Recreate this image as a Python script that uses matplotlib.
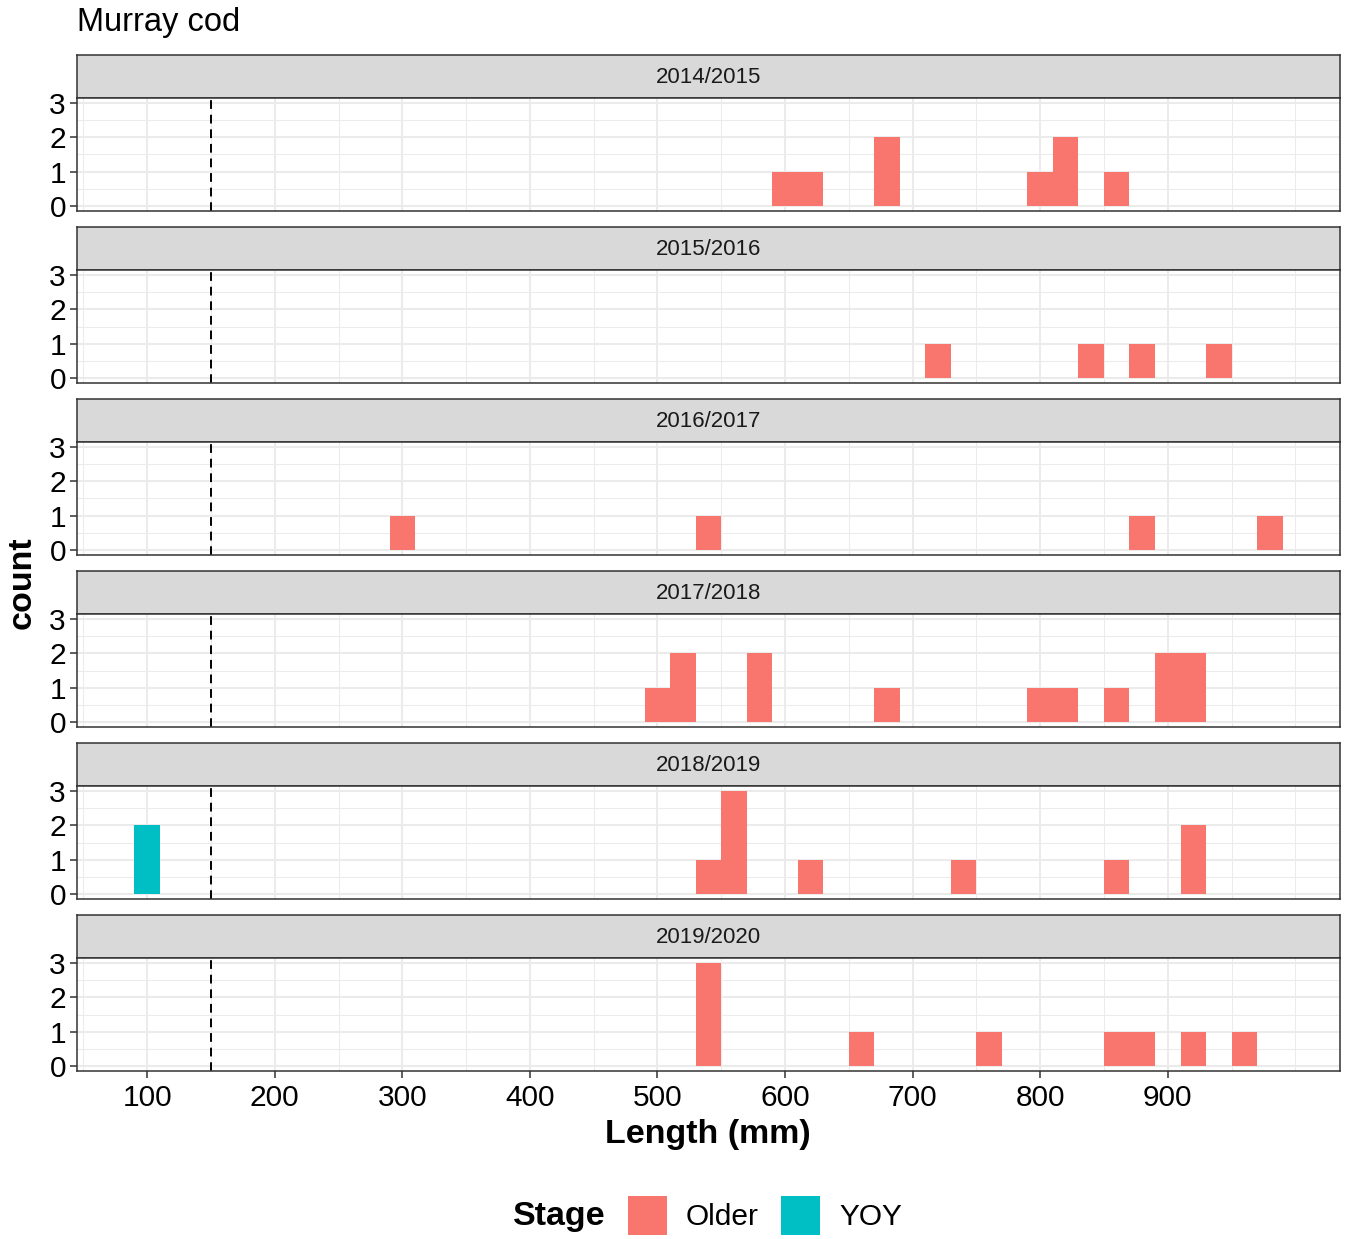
import matplotlib.pyplot as plt
from matplotlib.patches import Rectangle

plt.rcParams["font.family"] = ["Liberation Sans", "DejaVu Sans"]

SEASONS = ["2014/2015", "2015/2016", "2016/2017", "2017/2018", "2018/2019", "2019/2020"]

# bin centres (mm) and counts, binwidth 20
OLDER_LENGTHS = [
    [600, 620, 680, 800, 820, 860],
    [720, 840, 880, 940],
    [300, 540, 880, 980],
    [500, 520, 580, 680, 800, 820, 860, 900, 920],
    [540, 560, 620, 740, 860, 920],
    [540, 660, 760, 860, 880, 920, 960],
]
OLDER_COUNTS = [
    [1, 1, 2, 1, 2, 1],
    [1, 1, 1, 1],
    [1, 1, 1, 1],
    [1, 2, 2, 1, 1, 1, 1, 2, 2],
    [1, 3, 1, 1, 1, 2],
    [3, 1, 1, 1, 1, 1, 1],
]
YOY_LENGTHS = [[], [], [], [], [100], []]
YOY_COUNTS = [[], [], [], [], [2], []]

BIN_WIDTH = 20
YOY_CUTOFF = 150
X_TICKS = [100, 200, 300, 400, 500, 600, 700, 800, 900]
X_MINOR = [50, 150, 250, 350, 450, 550, 650, 750, 850, 950, 1000]
Y_TICKS = [0, 1, 2, 3]
Y_MINOR = [0.5, 1.5, 2.5]

OLDER_COLOR = "#F8766D"
YOY_COLOR = "#00BFC4"
BORDER = "#333333"
GRID = "#EBEBEB"

W, H = 1346, 1239


def fx(px):
    return px / W


def fy(py):
    return 1 - py / H


def main():
    fig = plt.figure(figsize=(W / 100, H / 100), dpi=100)
    left, right = 77, 1340
    for i, season in enumerate(SEASONS):
        top = 98 + 172 * i
        bottom = 211 + 172 * i
        strip_top = 55 + 172 * i

        sax = fig.add_axes([fx(left), fy(top), fx(right) - fx(left), fy(strip_top) - fy(top)])
        sax.set_facecolor("#D9D9D9")
        sax.set_xticks([])
        sax.set_yticks([])
        for sp in sax.spines.values():
            sp.set_color(BORDER)
            sp.set_linewidth(1.1)
        sax.text(0.5, 0.47, season, ha="center", va="center", fontsize=16,
                 color="#1A1A1A", transform=sax.transAxes)

        ax = fig.add_axes([fx(left), fy(bottom), fx(right) - fx(left), fy(top) - fy(bottom)])
        ax.set_xlim(45, 1035)
        ax.set_ylim(-0.15, 3.15)
        for x in X_MINOR:
            ax.axvline(x, color=GRID, lw=0.75, zorder=0)
        for x in X_TICKS:
            ax.axvline(x, color=GRID, lw=1.5, zorder=0)
        for y in Y_MINOR:
            ax.axhline(y, color=GRID, lw=0.75, zorder=0)
        for y in Y_TICKS:
            ax.axhline(y, color=GRID, lw=1.5, zorder=0)

        ax.bar(OLDER_LENGTHS[i], OLDER_COUNTS[i], width=BIN_WIDTH, color=OLDER_COLOR,
               linewidth=0, zorder=2)
        if YOY_LENGTHS[i]:
            ax.bar(YOY_LENGTHS[i], YOY_COUNTS[i], width=BIN_WIDTH, color=YOY_COLOR,
                   linewidth=0, zorder=2)
        ax.axvline(YOY_CUTOFF, color="black", lw=1.4, linestyle=(0, (4.5, 3)), zorder=3)

        ax.set_yticks(Y_TICKS)
        ax.set_yticklabels([str(v) for v in Y_TICKS], fontsize=21.5, color="black")
        ax.tick_params(axis="y", length=5, width=1.1, color=BORDER, pad=3)
        if i == len(SEASONS) - 1:
            ax.set_xticks(X_TICKS)
            ax.set_xticklabels([str(v) for v in X_TICKS], fontsize=21.5, color="black")
            ax.tick_params(axis="x", length=5, width=1.1, color=BORDER, pad=4)
        else:
            ax.set_xticks([])
        for sp in ax.spines.values():
            sp.set_color(BORDER)
            sp.set_linewidth(1.1)
            sp.set_zorder(4)

    fig.text(fx(77), fy(23), "Murray cod", ha="left", va="center", fontsize=23.5)
    fig.text(fx(708), fy(1134), "Length (mm)", ha="center", va="center",
             fontsize=24.5, fontweight="bold")
    fig.text(fx(22), fy(583), "count", ha="center", va="center", rotation=90,
             fontsize=24.5, fontweight="bold")

    # legend
    fig.text(fx(513), fy(1217), "Stage", ha="left", va="center", fontsize=24.5,
             fontweight="bold")
    for key_x, label, color in [(628, "Older", OLDER_COLOR), (781, "YOY", YOY_COLOR)]:
        fig.add_artist(Rectangle((fx(key_x), fy(1235)), 39 / W, 39 / H,
                                 transform=fig.transFigure, facecolor=color,
                                 edgecolor="none"))
        fig.text(fx(key_x + 58), fy(1217), label, ha="left", va="center", fontsize=21.5)

    fig.savefig("out.png", dpi=100)
    plt.close(fig)


if __name__ == "__main__":
    main()
